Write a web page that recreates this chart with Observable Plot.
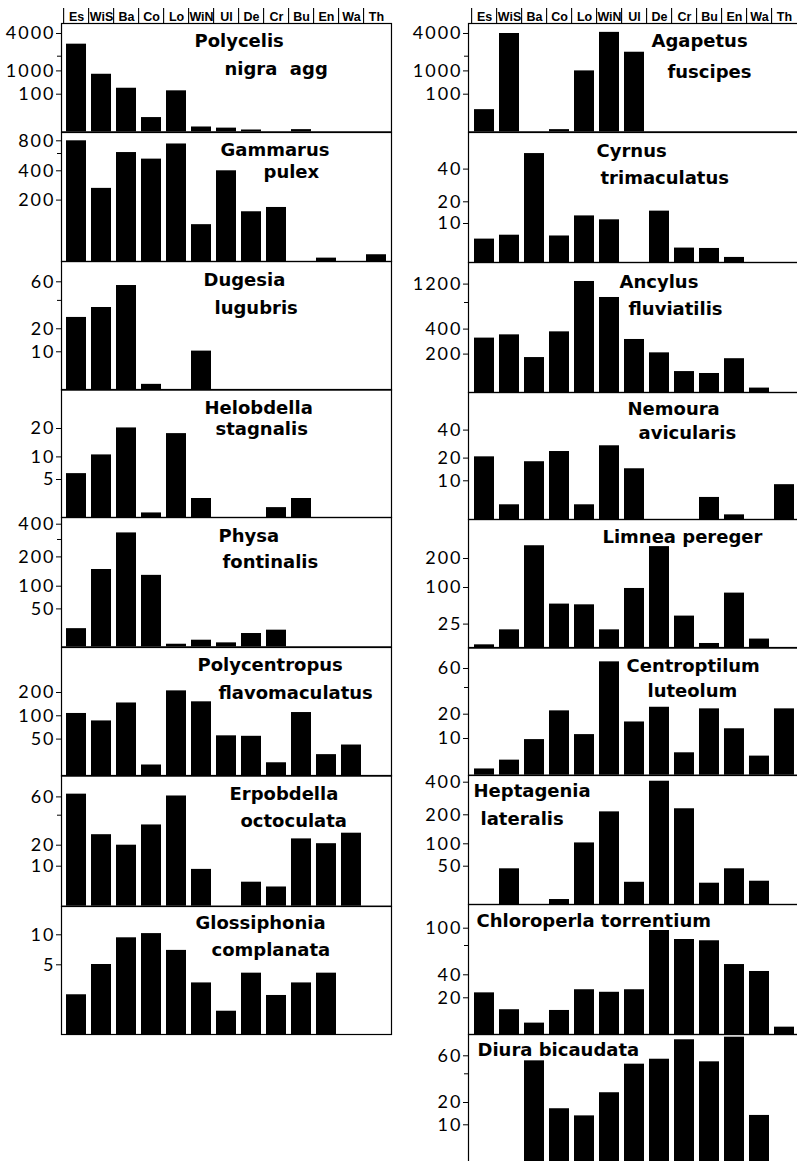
<!DOCTYPE html>
<html><head><meta charset="utf-8">
<script src="https://cdn.jsdelivr.net/npm/d3@7"></script>
<script src="https://cdn.jsdelivr.net/npm/@observablehq/plot@0.6"></script>
<style>
html,body{margin:0;padding:0;background:#fff;overflow:hidden;}
#chart{position:relative;width:797px;height:1161px;overflow:hidden;background:#fff;}
.cell{position:absolute;}
.cell svg{max-width:none !important;overflow:visible;background:transparent !important;}
.cell g[aria-label="y-axis tick label"] text{letter-spacing:2px;}
</style></head><body><div id="chart"></div>
<script>
// Sites (column headers)
const sites = ["Es","WiS","Ba","Co","Lo","WiN","Ul","De","Cr","Bu","En","Wa","Th"];

// Abundance per site, in site order
const polycelis     = [3060, 870, 330, 38, 230, 13, 10, 5, 0, 6, 0, 0, 0];
const gammarus      = [800, 280, 615, 535, 750, 120, 400, 162, 176, 0, 11, 0, 22];
const dugesia       = [28, 35, 56, 1.5, 0, 10.3, 0, 0, 0, 0, 0, 0, 0];
const helobdella    = [6.3, 10.7, 20.2, 0.6, 18.2, 2.5, 0, 0, 1.3, 2.5, 0, 0, 0];
const physa         = [24, 157, 343, 137, 3.5, 8.8, 5.3, 17.6, 22, 0, 0, 0, 0];
const polycentropus = [110, 89, 155, 15, 207, 160, 57, 56, 18, 114, 29, 42, 0];
const erpobdella    = [63, 27, 20, 33.5, 61, 9.2, 0, 6, 4.8, 24.2, 21, 28, 0];
const glossiphonia  = [2.85, 5.05, 9.5, 10.2, 7.4, 3.7, 1.67, 4.4, 2.8, 3.7, 4.4, 0, 0];
const agapetus      = [59, 4000, 0, 6, 1000, 4100, 2350, 0, 0, 0, 0, 0, 0];
const cyrnus        = [6, 7, 49.5, 6.8, 13.5, 11.7, 0, 15.7, 3.7, 3.6, 1.3, 0, 0];
const ancylus       = [328, 354, 182, 378, 1257, 909, 317, 210, 109, 99, 176, 23, 0];
const nemoura       = [20.9, 3.8, 18.4, 24.7, 3.8, 28.8, 15.3, 0, 0, 5.7, 1.2, 0, 9];
const limnea        = [3.4, 19, 244, 66, 64.5, 19, 98, 241, 41.4, 4.8, 88.5, 9.4, 0];
const centroptilum  = [1.7, 4.1, 9.7, 22.5, 11.6, 67, 16.8, 25.2, 6.1, 24, 14, 5.2, 24];
const heptagenia    = [0, 46.6, 0, 6.5, 103, 218, 29, 406, 237, 27.8, 46.6, 30.4, 0];
const chloroperla   = [24.3, 13.5, 6.2, 13.1, 27, 24.8, 27, 96, 80.4, 78.2, 50.5, 43.4, 4];
const diura         = [0, 0, 54.4, 17.2, 14, 26.8, 50.7, 56.2, 77.8, 53.3, 80.7, 14.2, 0];

// Tick labels (labelled ticks) and unlabelled minor ticks per panel
const ticksA = [4000, 1000, 100],  minorA = [2000];
const ticksB = [800, 400, 200],    minorB = [600];
const ticksC = [60, 20, 10],       minorC = [40];
const ticksD = [20, 10, 5];
const ticksE = [400, 200, 100, 50], minorE = [300];
const ticksF = [200, 100, 50];
const ticksG = [10, 5];
const ticksH = [40, 20, 10];
const ticksI = [1200, 400, 200],   minorI = [800];
const ticksJ = [200, 100, 25];
const ticksK = [100, 40, 20],      minorK = [70];

// Layout / scale definitions (piecewise axis: domain knots -> pixel height above baseline)
const columns = [
  {left: 0,   width: 400, ml: 61, mr: 9},
  {left: 400, width: 399, ml: 68, mr: 0}
];
const panels = [
  {col:0, top:23.3, bottom:131.7, values:polycelis, ticks:ticksA, minor:minorA, knots:[0,100,1000,2000,4000], px:[0,37.7,61,75.7,98.4], title:[["Polycelis",194,46.7],["nigra  agg",224,75]]},
  {col:0, top:131.7, bottom:260.7, values:gammarus, ticks:ticksB, minor:minorB, knots:[0,200,400,600,800], px:[0,61.4,90.7,108,120.7], title:[["Gammarus",220,155],["pulex",263,176.7]]},
  {col:0, top:260.7, bottom:389.3, values:dugesia, ticks:ticksC, minor:minorC, knots:[0,10,20,40,60], px:[0,38.3,61.3,89.7,108.3], title:[["Dugesia",203,285],["lugubris",214,312.7]]},
  {col:0, top:389.3, bottom:517.3, values:helobdella, ticks:ticksD, minor:[], knots:[0,5,10,20], px:[0,38,60.6,89], title:[["Helobdella",204,413.3],["stagnalis",215,434.3]]},
  {col:0, top:517.3, bottom:646.7, values:physa, ticks:ticksE, minor:minorE, knots:[0,50,100,200,300,400], px:[0,38,60.7,90,107.4,122.7], title:[["Physa",218,541.7],["fontinalis",222,568]]},
  {col:0, top:646.7, bottom:775.3, values:polycentropus, ticks:ticksF, minor:[], knots:[0,50,100,200], px:[0,37,60.3,83.6], title:[["Polycentropus",197,670],["flavomaculatus",218,698.3]]},
  {col:0, top:775.3, bottom:906, values:erpobdella, ticks:ticksC, minor:minorC, knots:[0,10,20,40,60], px:[0,40,61,91,109.3], title:[["Erpobdella",229,799.3],["octoculata",240,826.7]]},
  {col:0, top:906, bottom:1034, values:glossiphonia, ticks:ticksG, minor:[], knots:[0,5,10], px:[0,69.7,99.7], title:[["Glossiphonia",195,928.3],["complanata",211,955]]},

  {col:1, top:23.3, bottom:131.7, values:agapetus, ticks:ticksA, minor:minorA, knots:[0,100,1000,2000,4000], px:[0,37.7,61,75.7,98.4], title:[["Agapetus",651,46.7],["fuscipes",667,77.3]]},
  {col:1, top:131.7, bottom:261.7, values:cyrnus, ticks:ticksH, minor:[], knots:[0,10,20,40], px:[0,39,60.7,93.4], title:[["Cyrnus",596,156],["trimaculatus",600,183.3]]},
  {col:1, top:261.7, bottom:391.7, values:ancylus, ticks:ticksI, minor:minorI, knots:[0,200,400,800,1200], px:[0,38.4,63.4,90,108.4], title:[["Ancylus",619,286.7],["fluviatilis",628,314.3]]},
  {col:1, top:391.7, bottom:518.7, values:nemoura, ticks:ticksH, minor:[], knots:[0,10,20,40], px:[0,38.7,61.4,89.4], title:[["Nemoura",627,414.3],["avicularis",638,438.3]]},
  {col:1, top:518.7, bottom:647.3, values:limnea, ticks:ticksJ, minor:[], knots:[0,25,100,200], px:[0,24,60.6,89.6], title:[["Limnea pereger",602,541.7]]},
  {col:1, top:647.3, bottom:775, values:centroptilum, ticks:ticksC, minor:minorC, knots:[0,10,20,40,60], px:[0,36.7,61,87.7,106.7], title:[["Centroptilum",626,671.7],["luteolum",647,696.7]]},
  {col:1, top:775, bottom:904, values:heptagenia, ticks:ticksE, minor:[], knots:[0,50,100,200,400], px:[0,38.3,60.7,89.7,122.3], title:[["Heptagenia",473,796.7],["lateralis",480,824.3]]},
  {col:1, top:904, bottom:1034, values:chloroperla, ticks:ticksK, minor:minorK, knots:[0,20,40,70,100], px:[0,36.7,59.7,89,106.3], title:[["Chloroperla torrentium",476,926.7]]},
  {col:1, top:1034, bottom:1162, values:diura, ticks:ticksC, minor:minorC, knots:[0,10,20,40,60], px:[0,37.7,60,88.7,106.7], title:[["Diura bicaudata",477,1055.7]]}
];

const chart = document.getElementById("chart");
const xScale = {type: "band", domain: sites, paddingInner: 0.22, paddingOuter: 0, align: 0.5, axis: null};
const TITLE_FS = 18;
const HDR_FS = 12.5;

function place(node, left, top, w) {
  const div = document.createElement("div");
  div.className = "cell";
  div.style.left = left + "px";
  div.style.top = top + "px";
  div.style.width = w + "px";
  div.appendChild(node);
  chart.appendChild(div);
}

// Headers
for (const C of columns) {
  const top = 6, H = 17.3;
  const hdr = Plot.plot({
    width: C.width, height: H, marginLeft: C.ml, marginRight: C.mr, marginTop: 0, marginBottom: 0,
    style: {overflow: "visible", maxWidth: "none", background: "transparent"},
    x: xScale,
    marks: [
      Plot.ruleX(sites, {x: d => d, dx: -12.9, stroke: "black", strokeWidth: 1.1, insetTop: 2}),
      Plot.text(sites, {x: d => d, text: d => d, frameAnchor: "bottom", lineAnchor: "middle",
        dy: (21 - 0.32 * HDR_FS) - (top + H),
        fontSize: HDR_FS, fontWeight: "bold", fontFamily: "Liberation Sans", fill: "black"})
    ]
  });
  place(hdr, C.left, top, C.width);
}

// Panels
for (const p of panels) {
  const C = columns[p.col];
  const H = p.bottom - p.top;
  const data = sites.map((s, i) => ({site: s, value: p.values[i]}));
  const marks = [
    Plot.barY(data, {x: "site", y: "value", fill: "black"}),
    Plot.axisY({ticks: p.ticks, label: null, tickSize: 5, tickPadding: 1, fontSize: 18, fontFamily: "Lato",
      tickFormat: d => String(d), stroke: "black", fill: "black"})
  ];
  if (p.minor.length) marks.push(Plot.axisY({ticks: p.minor, label: null, tickSize: 4, tickFormat: () => "", stroke: "black"}));
  marks.push(Plot.frame({stroke: "black", strokeWidth: 1.2}));
  for (const [t, tx, base] of p.title) {
    marks.push(Plot.text([t], {text: d => d, frameAnchor: "top-left", textAnchor: "start", lineAnchor: "middle",
      dx: tx - (C.left + C.ml), dy: base - p.top - 0.32 * TITLE_FS,
      fontSize: TITLE_FS, fontWeight: "bold", fontFamily: "DejaVu Sans", fill: "black"}));
  }
  const svg = Plot.plot({
    width: C.width, height: H, marginLeft: C.ml, marginRight: C.mr, marginTop: 0, marginBottom: 0,
    style: {overflow: "visible", maxWidth: "none", background: "transparent"},
    x: xScale,
    y: {type: "linear", domain: p.knots, range: p.px.map(h => H - h), axis: null},
    marks
  });
  place(svg, C.left, p.top, C.width);
}
</script></body></html>
